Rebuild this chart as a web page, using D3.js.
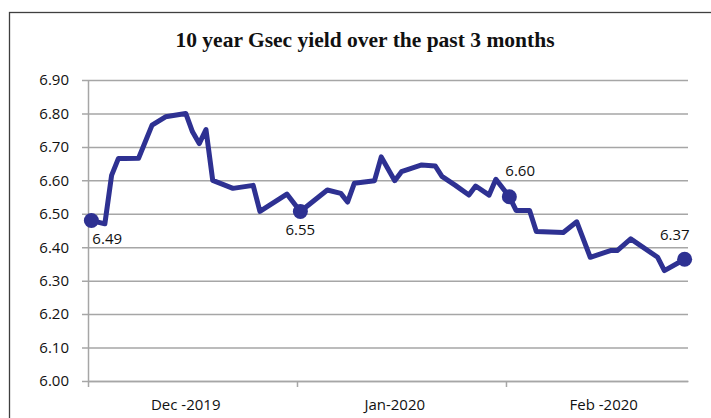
<!DOCTYPE html>
<html>
<head>
<meta charset="utf-8">
<script src="https://cdn.jsdelivr.net/npm/d3@7"></script>
<style>
    body { margin: 0; background: #ffffff; }
    #chart { width: 711px; height: 418px; overflow: hidden; }
</style>
</head>
<body>
<div id="chart"></div>
<script>

const WIDTH = 711;
const HEIGHT = 418;

// Plot area (pixels inside the svg).
const PLOT = {'left': 88, 'right': 688, 'top': 80, 'bottom': 381};

const TITLE = "10 year Gsec yield over the past 3 months";

// Daily 10 year Gsec yield (%).
const dates = [
    "2019-12-01", "2019-12-03", "2019-12-04", "2019-12-05", "2019-12-06",
    "2019-12-08", "2019-12-10", "2019-12-12", "2019-12-15", "2019-12-16",
    "2019-12-17", "2019-12-18", "2019-12-19", "2019-12-22", "2019-12-25",
    "2019-12-26", "2019-12-30", "2020-01-01", "2020-01-05", "2020-01-07",
    "2020-01-08", "2020-01-09", "2020-01-12", "2020-01-13", "2020-01-15",
    "2020-01-16", "2020-01-19", "2020-01-21", "2020-01-22", "2020-01-24",
    "2020-01-26", "2020-01-27", "2020-01-29", "2020-01-30", "2020-02-01",
    "2020-02-02", "2020-02-04", "2020-02-05", "2020-02-09", "2020-02-11",
    "2020-02-13", "2020-02-16", "2020-02-17", "2020-02-19", "2020-02-23",
    "2020-02-24", "2020-02-27"
];
const yields = [
    6.48, 6.47, 6.615, 6.665, 6.665,
    6.666, 6.765, 6.79, 6.80, 6.745,
    6.71, 6.752, 6.60, 6.576, 6.585,
    6.507, 6.559, 6.507, 6.571, 6.561,
    6.535, 6.591, 6.599, 6.670, 6.599,
    6.626, 6.646, 6.643, 6.612, 6.585,
    6.556, 6.583, 6.556, 6.603, 6.551,
    6.510, 6.510, 6.447, 6.444, 6.476,
    6.370, 6.390, 6.390, 6.425, 6.370,
    6.330, 6.364
];

// Highlighted points and their labels.
const markDates = ["2019-12-01", "2020-01-01", "2020-02-01", "2020-02-27"];
const markLabels = ["6.49", "6.55", "6.60", "6.37"];

// Axis ticks.
const yTicks = [6.00, 6.10, 6.20, 6.30, 6.40, 6.50, 6.60, 6.70, 6.80, 6.90];
const monthStarts = ["2019-12-01", "2020-01-01", "2020-02-01"];
const monthLabels = ["Dec -2019", "Jan-2020", "Feb -2020"];
const monthMid = ["2019-12-15", "2020-01-15", "2020-02-15"];
const axisEnd = "2020-02-28";

// Label offsets from each marker.
const LABEL_POS = [
    {'dx': 1, 'dy': 24, 'anchor': 'start'},
    {'dx': 0, 'dy': 24, 'anchor': 'middle'},
    {'dx': -4, 'dy': -21, 'anchor': 'start'},
    {'dx': 5, 'dy': -19, 'anchor': 'end'}
];

const LINE_COLOR = "#2e3192";
const GRID_COLOR = "#a6a6a6";
const FONT = "'Open Sans', 'Noto Sans', sans-serif";


window.onload = function() {

    var parse = d3.timeParse("%Y-%m-%d");
    var noon = function (s) { return d3.timeHour.offset(parse(s), 12); };

    var data = dates.map(function (d, i) {
        return {'date': noon(d), 'value': yields[i]};
    });

    var canvas = d3.select("#chart").append("svg")
                   .attr("width", WIDTH)
                   .attr("height", HEIGHT);

    // Chart frame (runs off the right and bottom).
    canvas.append("rect")
          .attr("x", 9.5)
          .attr("y", 12.5)
          .attr("width", 800)
          .attr("height", 500)
          .attr("fill", "#ffffff")
          .attr("stroke", "#3f3f3f")
          .attr("stroke-width", 1.3);

    canvas.append("text")
          .attr("x", 365)
          .attr("y", 47)
          .attr("text-anchor", "middle")
          .attr("font-family", "'Liberation Serif', 'Times New Roman', serif")
          .attr("font-weight", "bold")
          .attr("font-size", "21.5px")
          .attr("fill", "#111")
          .text(TITLE);

    var x = d3.scaleTime()
              .domain([parse(dates[0]), parse(axisEnd)])
              .range([PLOT.left, PLOT.right]);

    var y = d3.scaleLinear()
              .domain([6.0, 6.9])
              .range([PLOT.bottom, PLOT.top]);

    // Y axis with gridlines.
    var yAxis = canvas.append("g")
                      .attr("transform", "translate(" + PLOT.left + ",0)")
                      .call(d3.axisLeft(y)
                              .tickValues(yTicks)
                              .tickFormat(d3.format(".2f"))
                              .tickSizeInner(-(PLOT.right - PLOT.left))
                              .tickSizeOuter(0)
                              .tickPadding(19));

    yAxis.select(".domain").attr("stroke", GRID_COLOR).attr("stroke-width", 1.5);
    yAxis.selectAll(".tick line")
         .attr("x1", -6)
         .attr("stroke", GRID_COLOR)
         .attr("stroke-width", 1.5);
    yAxis.selectAll(".tick text")
         .attr("font-family", FONT)
         .attr("font-size", "15px")
         .attr("fill", "#111");

    // X axis: ticks at month starts, labels centred in each month.
    var xAxis = canvas.append("g")
                      .attr("transform", "translate(0," + PLOT.bottom + ")")
                      .call(d3.axisBottom(x)
                              .tickValues(monthStarts.map(parse))
                              .tickFormat("")
                              .tickSizeInner(6)
                              .tickSizeOuter(0));

    xAxis.select(".domain").attr("stroke", GRID_COLOR).attr("stroke-width", 1.5);
    xAxis.selectAll(".tick line")
         .attr("stroke", GRID_COLOR)
         .attr("stroke-width", 1.5);

    xAxis.selectAll(".month")
         .data(monthLabels)
         .enter()
         .append("text")
         .attr("class", "month")
         .attr("x", function (d, i) { return x(noon(monthMid[i])); })
         .attr("y", 29)
         .attr("text-anchor", "middle")
         .attr("font-family", FONT)
         .attr("font-size", "15px")
         .attr("fill", "#111")
         .text(function (d) { return d; });

    var line = d3.line()
                 .x(function (d) { return x(d.date); })
                 .y(function (d) { return y(d.value); });

    canvas.append("path")
          .datum(data)
          .attr("d", line)
          .attr("fill", "none")
          .attr("stroke", LINE_COLOR)
          .attr("stroke-width", 5)
          .attr("stroke-linejoin", "round")
          .attr("stroke-linecap", "round");

    var marks = markDates.map(function (m, i) {
        var p = data[dates.indexOf(m)];
        return {'date': p.date, 'value': p.value, 'label': markLabels[i], 'pos': LABEL_POS[i]};
    });

    var mg = canvas.selectAll(".mark")
                   .data(marks)
                   .enter()
                   .append("g")
                   .attr("class", "mark");

    mg.append("circle")
      .attr("cx", function (d) { return x(d.date); })
      .attr("cy", function (d) { return y(d.value); })
      .attr("r", 7.5)
      .attr("fill", LINE_COLOR);

    mg.append("text")
      .attr("x", function (d) { return x(d.date) + d.pos.dx; })
      .attr("y", function (d) { return y(d.value) + d.pos.dy; })
      .attr("text-anchor", function (d) { return d.pos.anchor; })
      .attr("font-family", FONT)
      .attr("font-size", "15px")
      .attr("fill", "#111")
      .text(function (d) { return d.label; });
};

</script>
</body>
</html>
